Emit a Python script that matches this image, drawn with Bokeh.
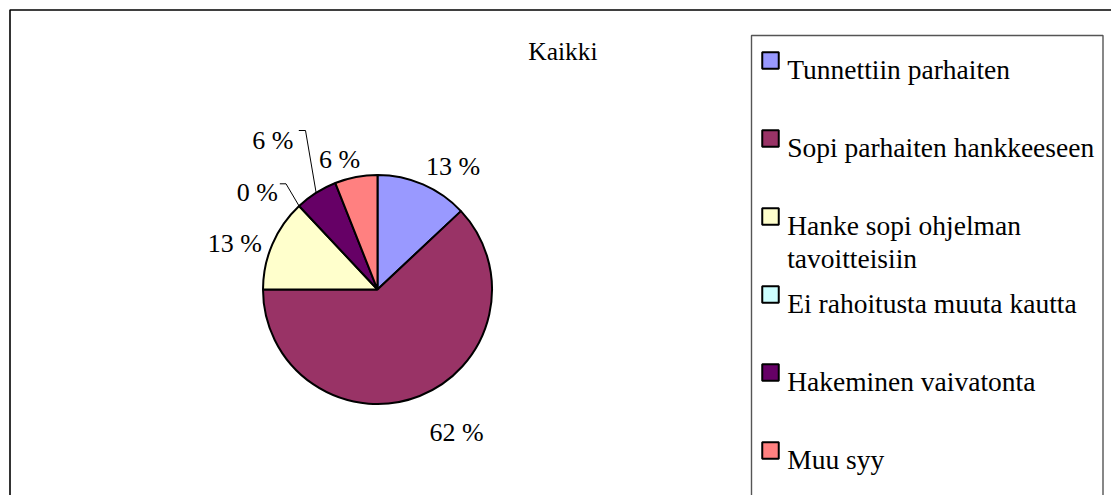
import math
import textwrap
from bokeh.plotting import figure
from bokeh.models import Range1d, ColumnDataSource
from bokeh.core.properties import value
from bokeh.embed import file_html
from bokeh.resources import INLINE

# ---------------- data ----------------
chart_title = "Kaikki"
categories = [
    "Tunnettiin parhaiten",
    "Sopi parhaiten hankkeeseen",
    "Hanke sopi ohjelman tavoitteisiin",
    "Ei rahoitusta muuta kautta",
    "Hakeminen vaivatonta",
    "Muu syy",
]
percent = [13, 62, 13, 0, 6, 6]
colors = ["#9999FF", "#993366", "#FFFFCC", "#CCFFFF", "#660066", "#FF8080"]

# ---------------- layout (window pixel coordinates) ----------------
W, H = 1111, 495
FONT = "Liberation Serif"


def X(px):
    return px


def Y(py):
    return H - py


pie_cx, pie_cy, pie_r = X(377), Y(289), 114.5
# label anchor (center x, baseline y) in window pixels, per slice
label_pos = [(452.5, 166), (456, 431.5), (234.4, 243), (256.9, 191.7), (272.3, 140), (339.2, 159.3)]
# leader lines for moved labels: index -> (start x, elbow x, y)
leaders = {3: (279.3, 285.5, 183.3), 4: (298.3, 305.0, 130.0)}

p = figure(width=W, height=H, x_range=Range1d(0, W), y_range=Range1d(0, H),
           output_backend="svg", toolbar_location=None, min_border=0,
           x_axis_location=None, y_axis_location=None)
p.grid.visible = False
p.outline_line_color = None
p.background_fill_color = "white"
p.border_fill_color = "white"

# outer chart border
p.quad(left=X(9.5), right=W + 30, top=Y(9.5), bottom=-30, fill_color=None,
       line_color="black", line_width=1.6)

# ---------------- pie ----------------
total = float(sum(percent))
cum = 0.0
starts, ends, mids = [], [], []
for v in percent:
    a_end = math.pi / 2 - 2 * math.pi * cum / total
    a_start = math.pi / 2 - 2 * math.pi * (cum + v) / total
    starts.append(a_start)
    ends.append(a_end)
    mids.append(math.pi / 2 - 2 * math.pi * (cum + v / 2.0) / total)
    cum += v

idx = [i for i, v in enumerate(percent) if v > 0]
src = ColumnDataSource(dict(
    start=[starts[i] for i in idx],
    end=[ends[i] for i in idx],
    color=[colors[i] for i in idx],
))
p.wedge(x=pie_cx, y=pie_cy, radius=pie_r, start_angle="start", end_angle="end",
        fill_color="color", line_color="black", line_width=2, source=src)

# leader lines
for i, (sx, ex, ly) in leaders.items():
    px_end = pie_cx + pie_r * math.cos(mids[i])
    py_end = pie_cy + pie_r * math.sin(mids[i])
    p.line(x=[X(sx), X(ex), px_end], y=[Y(ly), Y(ly), py_end],
           line_color="black", line_width=1)

# data labels
p.text(x=[X(a) for a, b in label_pos], y=[Y(b) for a, b in label_pos],
       text=[f"{v} %" for v in percent], text_font=value(FONT),
       text_font_size="26px", text_align="center", text_baseline="alphabetic",
       text_color="black")

# title
p.text(x=[X(562.5)], y=[Y(51)], text=[chart_title], text_font=value(FONT),
       text_font_size="25.5px", text_align="center", text_baseline="alphabetic",
       text_color="black")

# ---------------- legend ----------------
p.quad(left=X(751), right=X(1102.5), top=Y(35), bottom=-30, fill_color=None,
       line_color="#555555", line_width=1.4)

row0, row_step, line_step = 60, 78, 33
sw_y = [Y(row0 + row_step * i) for i in range(len(categories))]
p.rect(x=X(770), y=sw_y, width=16.5, height=16.5, fill_color=colors,
       line_color="black", line_width=2)

lx, ly, lt = [], [], []
for i, name in enumerate(categories):
    for j, line in enumerate(textwrap.wrap(name, 26)):
        lx.append(X(786.7))
        ly.append(Y(row0 + row_step * i + 9 + line_step * j))
        lt.append(line)
p.text(x=lx, y=ly, text=lt, text_font=value(FONT), text_font_size="27.5px",
       text_align="left", text_baseline="alphabetic", text_color="black")

open("out.html", "w").write(file_html(p, INLINE))
